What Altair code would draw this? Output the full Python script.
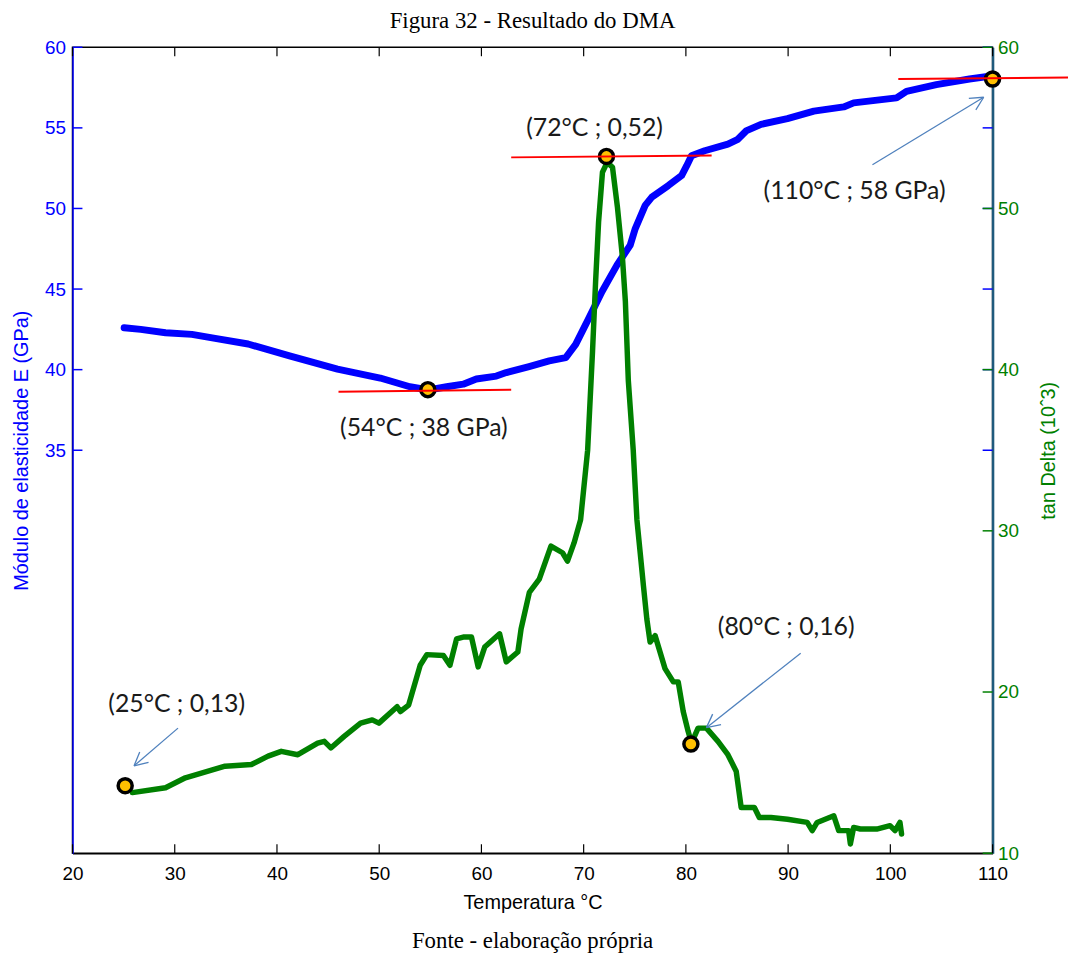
import math
import altair as alt
import pandas as pd

# ---------------- data ----------------
# Módulo de elasticidade E (GPa) vs Temperatura (°C)  -> left axis
E_T = [25.05, 26.67, 29.1, 31.68, 33.95, 37.18, 41.23, 45.92, 50.1, 53.0, 54.83, 56.6,
       58.22, 59.5, 61.46, 62.43, 64.66, 66.63, 68.25, 69.22, 70.51, 71.8, 73.27, 74.56,
       75.05, 76.02, 76.67, 78.28, 79.58, 80.07, 80.55, 81.84, 84.11, 85.08, 85.89, 87.35,
       89.93, 92.52, 95.44, 96.41, 100.61, 101.58, 104.5, 107.74, 109.68]
E_V = [42.6, 42.5, 42.29, 42.19, 41.94, 41.59, 40.85, 40.03, 39.48, 38.94, 38.74, 38.94,
       39.1, 39.42, 39.6, 39.82, 40.19, 40.54, 40.75, 41.57, 43.2, 44.85, 46.5, 47.73,
       48.75, 50.19, 50.7, 51.42, 52.04, 52.64, 53.27, 53.58, 53.99, 54.29, 54.81, 55.22,
       55.57, 56.04, 56.3, 56.55, 56.86, 57.27, 57.68, 58.03, 58.2]

# tan Delta (10^-3) vs Temperatura (°C)  -> right axis
G_T = [25.85, 29.1, 31.04, 34.92, 37.5, 39.13, 40.42, 42.04, 43.98, 44.63, 45.27, 46.57,
       48.18, 49.32, 49.97, 51.75, 52.07, 52.88, 54.01, 54.66, 56.28, 56.92, 57.57, 58.22,
       59.03, 59.68, 60.32, 61.78, 62.43, 63.56, 63.88, 64.69, 65.66, 66.8, 67.93, 68.42,
       69.06, 69.7, 70.39, 70.87, 71.17, 71.46, 71.84, 72.3, 72.82, 73.3, 73.79, 74.08,
       74.37, 74.85, 75.21, 75.53, 75.85, 76.18, 76.5, 76.99, 77.96, 78.77, 79.25, 79.74,
       80.22, 80.55, 81.19, 82.01, 83.14, 84.11, 84.92, 85.41, 86.7, 87.18, 88.32, 89.93,
       91.87, 92.36, 92.84, 94.47, 94.95, 95.92, 96.09, 96.41, 97.06, 98.67, 99.97, 100.46,
       100.94, 101.1]
G_V = [13.76, 14.06, 14.68, 15.4, 15.5, 16.02, 16.32, 16.11, 16.83, 16.94, 16.53, 17.25,
       18.07, 18.27, 18.07, 19.09, 18.79, 19.19, 21.66, 22.32, 22.27, 21.66, 23.3, 23.41,
       23.41, 21.56, 22.79, 23.61, 21.87, 22.48, 23.92, 26.18, 27.0, 29.05, 28.64, 28.12,
       29.25, 30.69, 35.0, 41.16, 45.47, 49.16, 52.25, 52.86, 52.56, 50.1, 47.0, 44.24,
       39.31, 35.0, 30.69, 28.64, 26.58, 24.53, 23.1, 23.5, 21.45, 20.63, 20.63, 18.79,
       17.56, 16.83, 17.76, 17.76, 16.94, 16.11, 15.09, 12.83, 12.83, 12.22, 12.22, 12.11,
       11.91, 11.4, 11.91, 12.32, 11.4, 11.4, 10.57, 11.6, 11.5, 11.5, 11.71, 11.4,
       11.91, 11.19]

# highlighted points
M_T = [25.15, 54.76, 72.23, 80.49, 110.0]
M_V = [14.19, 38.76, 53.23, 16.77, 58.03]

# red tangent lines
R_T1 = [46.02, 62.91, 100.78]
R_T2 = [62.91, 82.52, 117.38]
R_V1 = [38.63, 53.17, 58.03]
R_V2 = [38.75, 53.29, 58.13]

# annotation labels
L_TEXT = ["(25°C ; 0,13)", "(54°C ; 38 GPa)", "(72°C ; 0,52)", "(80°C ; 0,16)", "(110°C ; 58 GPa)"]
L_T = [30.19, 54.37, 71.07, 89.81, 96.5]
L_V = [19.24, 36.35, 55.01, 24.04, 51.07]

# arrows (tail -> head)
A_T0 = [30.32, 91.23, 98.25]
A_V0 = [17.76, 22.41, 52.71]
A_T1 = [26.02, 82.01, 109.13]
A_V1 = [15.42, 17.79, 56.9]

X_TICKS = [20, 30, 40, 50, 60, 70, 80, 90, 100, 110]
LEFT_TICKS = [35, 40, 45, 50, 55, 60]
RIGHT_TICKS = [10, 20, 30, 40, 50, 60]

# ---------------- styling ----------------
W, H = 927, 812
XMIN, XMAX, YMIN, YMAX = 20, 110, 10, 60
SX = W / (XMAX - XMIN)
SY = H / (YMAX - YMIN)
BLUE, GREEN, TEAL = "#0000ff", "#008000", "#1f5a7c"
ORANGE, RED, ARROW = "#ffc000", "#ff0000", "#4f81bd"
SANS, SERIF, CALLOUT = "Liberation Sans", "Liberation Serif", "Lato"

xs = alt.Scale(domain=[XMIN, XMAX], nice=False, zero=False)
ys = alt.Scale(domain=[YMIN, YMAX], nice=False, zero=False)

x_axis = alt.Axis(values=X_TICKS, ticks=False, grid=False, domainColor="black", domainWidth=1.5,
                  labelColor="black", labelFont=SANS, labelFontSize=19, labelPadding=11,
                  labelFlush=False, labelOverlap=False,
                  title="Temperatura °C", titleFont=SANS, titleFontSize=20, titleFontWeight="normal",
                  titleColor="black", titlePadding=10)
left_axis = alt.Axis(values=LEFT_TICKS, ticks=False, grid=False, domainColor=BLUE, domainWidth=1.5,
                     labelColor=BLUE, labelFont=SANS, labelFontSize=19, labelPadding=7,
                     title="Módulo de elasticidade E (GPa)", titleFont=SANS, titleFontSize=20,
                     titleFontWeight="normal", titleColor=BLUE, titlePadding=13)
right_axis = alt.Axis(orient="right", values=RIGHT_TICKS, ticks=False, grid=False, domainColor=TEAL,
                      domainWidth=2.5, labelColor=GREEN, labelFont=SANS, labelFontSize=19, labelPadding=5,
                      title="tan Delta (10ˆ3)", titleFont=SANS, titleFontSize=20, titleFontWeight="normal",
                      titleColor=GREEN, titlePadding=40, titleAngle=270)

e_df = pd.DataFrame({"T": E_T, "E": E_V})
g_df = pd.DataFrame({"T": G_T, "tand": G_V})
m_df = pd.DataFrame({"T": M_T, "v": M_V})
r_df = pd.DataFrame({"T": R_T1, "T2": R_T2, "v": R_V1, "v2": R_V2})
l_df = pd.DataFrame({"T": L_T, "v": L_V, "label": L_TEXT})

# arrow shafts and open heads
segs = []
for t0, v0, t1, v1 in zip(A_T0, A_V0, A_T1, A_V1):
    segs.append((t0, v0, t1, v1))
    dx = (t0 - t1) * SX
    dy = -(v0 - v1) * SY
    n = math.hypot(dx, dy)
    ux, uy = dx / n, dy / n
    for ang in (math.radians(27), -math.radians(27)):
        wx = (ux * math.cos(ang) - uy * math.sin(ang)) * 15
        wy = (ux * math.sin(ang) + uy * math.cos(ang)) * 15
        segs.append((t1, v1, t1 + wx / SX, v1 - wy / SY))
a_df = pd.DataFrame(segs, columns=["T", "v", "T2", "v2"])

lt_df = pd.DataFrame({"v": LEFT_TICKS})
rt_df = pd.DataFrame({"v": RIGHT_TICKS})
xt_df = pd.DataFrame({"T": X_TICKS})
one = pd.DataFrame({"a": [0]})

# ---------------- left (E) group ----------------
blue_line = alt.Chart(e_df).mark_line(color=BLUE, strokeWidth=7, strokeCap="round",
                                      strokeJoin="round").encode(
    x=alt.X("T:Q", scale=xs, axis=x_axis),
    y=alt.Y("E:Q", scale=ys, axis=left_axis),
)
left_ticks_in = alt.Chart(lt_df).mark_rule(color=BLUE, strokeWidth=1.5).encode(
    y=alt.Y("v:Q", scale=ys, axis=None), x=alt.value(0), x2=alt.value(10))
left_ticks_mirror = alt.Chart(lt_df).mark_rule(color=BLUE, strokeWidth=1.5).encode(
    y=alt.Y("v:Q", scale=ys, axis=None), x=alt.value(W - 10), x2=alt.value(W))
left_group = alt.layer(blue_line, left_ticks_in, left_ticks_mirror).resolve_axis(
    x="independent", y="independent")

# ---------------- right (tan delta) group ----------------
green_line = alt.Chart(g_df).mark_line(color=GREEN, strokeWidth=5.5, strokeCap="round",
                                       strokeJoin="round").encode(
    x=alt.X("T:Q", scale=xs, axis=None),
    y=alt.Y("tand:Q", scale=ys, axis=right_axis),
)
right_ticks = alt.Chart(rt_df).mark_rule(color=GREEN, strokeWidth=1.5).encode(
    y=alt.Y("v:Q", scale=ys, axis=None), x=alt.value(W - 10), x2=alt.value(W))
x_ticks_bottom = alt.Chart(xt_df).mark_rule(color="black", strokeWidth=1.2).encode(
    x=alt.X("T:Q", scale=xs, axis=None), y=alt.value(H - 9), y2=alt.value(H))
x_ticks_top = alt.Chart(xt_df).mark_rule(color="black", strokeWidth=1.2).encode(
    x=alt.X("T:Q", scale=xs, axis=None), y=alt.value(0), y2=alt.value(9))
markers = alt.Chart(m_df).mark_point(shape="circle", filled=True, fill=ORANGE, stroke="black",
                                     strokeWidth=3.5, size=200, opacity=1).encode(
    x=alt.X("T:Q", scale=xs, axis=None), y=alt.Y("v:Q", scale=ys, axis=None))
red_lines = alt.Chart(r_df).mark_rule(color=RED, strokeWidth=2).encode(
    x=alt.X("T:Q", scale=xs, axis=None), x2="T2:Q",
    y=alt.Y("v:Q", scale=ys, axis=None), y2="v2:Q")
arrows = alt.Chart(a_df).mark_rule(color=ARROW, strokeWidth=1.3).encode(
    x=alt.X("T:Q", scale=xs, axis=None), x2="T2:Q",
    y=alt.Y("v:Q", scale=ys, axis=None), y2="v2:Q")
labels = alt.Chart(l_df).mark_text(font=CALLOUT, fontSize=25, color="#1a1a1a", align="center",
                                   baseline="middle").encode(
    x=alt.X("T:Q", scale=xs, axis=None), y=alt.Y("v:Q", scale=ys, axis=None), text="label:N")
footer = alt.Chart(one).mark_text(text="Fonte - elaboração própria", font=SERIF, fontSize=23,
                                  color="black", align="center", baseline="middle").encode(
    x=alt.value(W / 2), y=alt.value(H + 89))

right_group = alt.layer(green_line, right_ticks, x_ticks_bottom, x_ticks_top, arrows,
                        markers, red_lines, labels, footer).resolve_axis(
    x="independent", y="independent")

chart = alt.layer(left_group, right_group).resolve_scale(y="independent").resolve_axis(
    x="independent", y="independent").properties(
    width=W, height=H,
    autosize=alt.AutoSizeParams(type="none"),
    padding={"left": 65, "top": 36, "right": 76, "bottom": 100},
    title=alt.TitleParams("Figura 32 - Resultado do DMA", font=SERIF, fontSize=23,
                          fontWeight="normal", color="black", anchor="middle", offset=5),
).configure(background="white").configure_view(stroke="black", strokeWidth=1.5)

chart.save("out.html", embed_options={"renderer": "svg", "actions": False})
